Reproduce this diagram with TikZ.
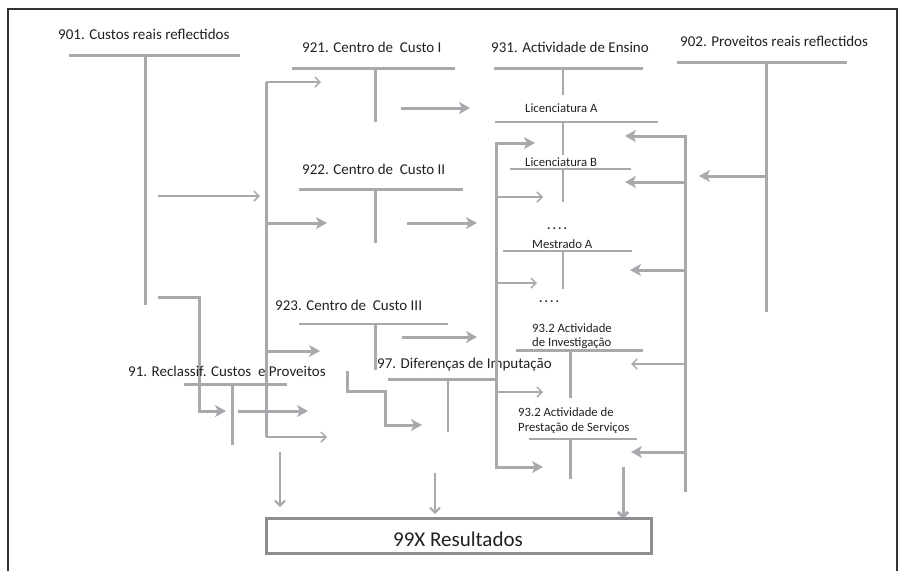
\documentclass[tikz,border=0pt]{standalone}
\usepackage{fontspec}
\setmainfont{Carlito}
\usetikzlibrary{arrows.meta}
\definecolor{ln}{RGB}{167,169,172}
\definecolor{bx}{RGB}{140,140,145}
\definecolor{tx}{RGB}{35,31,32}
\begin{document}
\begin{tikzpicture}[x=1pt,y=-1pt,
 thk/.style={draw=ln,line width=3pt},
 thn/.style={draw=ln,line width=1.5pt},
 mid/.style={draw=ln,line width=2pt},
 ha/.style={-{Stealth[length=11pt,width=12pt,inset=3pt]}},
 la/.style={-{Straight Barb[length=5pt,width=10pt]}},
 lbl/.style={anchor=base west,inner sep=0,text=tx,font=\fontsize{15}{17}\selectfont},
 sml/.style={anchor=base west,inner sep=0,text=tx,font=\fontsize{12.7}{15}\selectfont},
]
\useasboundingbox (0,0) rectangle (905,571);
% frame
\draw[draw=black!80,line width=1.2pt] (8,571) -- (8,9) -- (897,9) -- (897,571);

% 901
\node[lbl] (t901) at (58,39) {901. Custos reais reflectidos};
\draw[thk] (69,55) -- (240,55);
\draw[thk] (145,55) -- (145,305);
\draw[thn,la] (158,196) -- (260,196);
\draw[thk,ha] (158,297) -- (199,297) -- (199,411) -- (226,411);

% main distribution vertical
\draw[thk] (266,437) -- (266,82);
\draw[thn,la] (266,82) -- (321,82);
\draw[thn,la] (266,437) -- (327,437);
\draw[thk,ha] (266,223) -- (327,223);
\draw[thk,ha] (266,351) -- (320,351);
\draw[thk,ha] (238,411) -- (308,411);

% 91
\node[lbl] (t91) at (128,376) {91. Reclassif. Custos~ e Proveitos};
\draw[thk] (184,384) -- (287,384);
\draw[thk] (232,384) -- (232,445);

% 921
\node[lbl] (t921) at (302,52) {921. Centro de~ Custo I};
\draw[thk] (292,68) -- (455,68);
\draw[thk] (375,68) -- (375,122);
\draw[thk,ha] (401,108) -- (470,108);

% 922
\node[lbl] (t922) at (302,174) {922. Centro de~ Custo II};
\draw[thk] (299,189) -- (463,189);
\draw[thk] (375,189) -- (375,243);
\draw[thk,ha] (407,223) -- (477,223);

% 923
\node[lbl] (t923) at (275,310) {923. Centro de~ Custo III};
\draw[mid] (299,324) -- (448,324);
\draw[thk] (375,324) -- (375,370);
\draw[thk,ha] (402,337) -- (477,337);
\draw[thk,ha] (347,371) -- (347,391) -- (385,391) -- (385,425) -- (422,425);

% 97
\node[lbl] (t97) at (377,368) {97. Diferenças de Imputação};
\draw[thk] (388,379) -- (496,379);
\draw[mid] (448,379) -- (448,432);

% left vertical of activities
\draw[thk,ha] (496,300) -- (496,143) -- (535,143);
\draw[thk,ha] (496,300) -- (496,467) -- (543,467);
\draw[thn,la] (496,197) -- (543,197);
\draw[thn,la] (496,283) -- (537,283);
\draw[thn,la] (496,392) -- (543,392);

% 931
\node[lbl] (t931) at (491,52) {931. Actividade de Ensino};
\draw[thk] (494,68) -- (643,68);
\draw[thn] (563,68) -- (563,95);
\node[sml] (lA) at (525,112) {Licenciatura A};
\draw[thn] (495,122) -- (658,122);
\draw[thn] (563,122) -- (563,155);
\node[sml] (lB) at (525,166) {Licenciatura B};
\draw[thn] (510,169) -- (631,169);
\draw[thn] (563,169) -- (563,202);
\node[sml] (d1) at (547,229) {\textbf{.\,.\,.\,.}};
\node[sml] (mA) at (532,248) {Mestrado A};
\draw[mid] (503,251) -- (632,251);
\draw[thn] (563,251) -- (563,289);
\node[sml] (d2) at (539,302) {\textbf{.\,.\,.\,.}};

% 93.2 investigacao
\node[sml] (i1) at (532,332) {93.2 Actividade};
\node[sml] (i2) at (532,346) {de Investigação};
\draw[thk] (516,350) -- (643,350);
\draw[thk] (570,350) -- (570,398);

% 93.2 prestacao
\node[sml] (p1) at (518,416) {93.2 Actividade de};
\node[sml] (p2) at (518,431) {Prestação de Serviços};
\draw[mid] (529,439) -- (637,439);
\draw[thk] (570,439) -- (570,479);

% 902
\node[lbl] (t902) at (680,46) {902. Proveitos reais reflectidos};
\draw[thk] (677,62) -- (847,62);
\draw[thk] (766,62) -- (766,312);
\draw[thk,ha] (766,176) -- (699,176);

% right vertical
\draw[thk,ha] (685,300) -- (685,136) -- (625,136);
\draw[thk] (685,300) -- (685,492);
\draw[thk,ha] (685,182) -- (625,182);
\draw[thk,ha] (685,270) -- (630,270);
\draw[thn,la] (685,364) -- (631,364);
\draw[thk,ha] (685,452) -- (631,452);

% arrows to results
\draw[mid,la] (280,452) -- (280,507);
\draw[mid,la] (435,473) -- (435,514);
\draw[thk,la] (623,467) -- (623,519);

% results
\draw[draw=bx,line width=3pt] (266,518) rectangle (651,553);
\node[anchor=base,inner sep=0,text=tx,font=\fontsize{21}{24}\selectfont] (res) at (458,546) {99X Resultados};
\end{tikzpicture}
\end{document}
